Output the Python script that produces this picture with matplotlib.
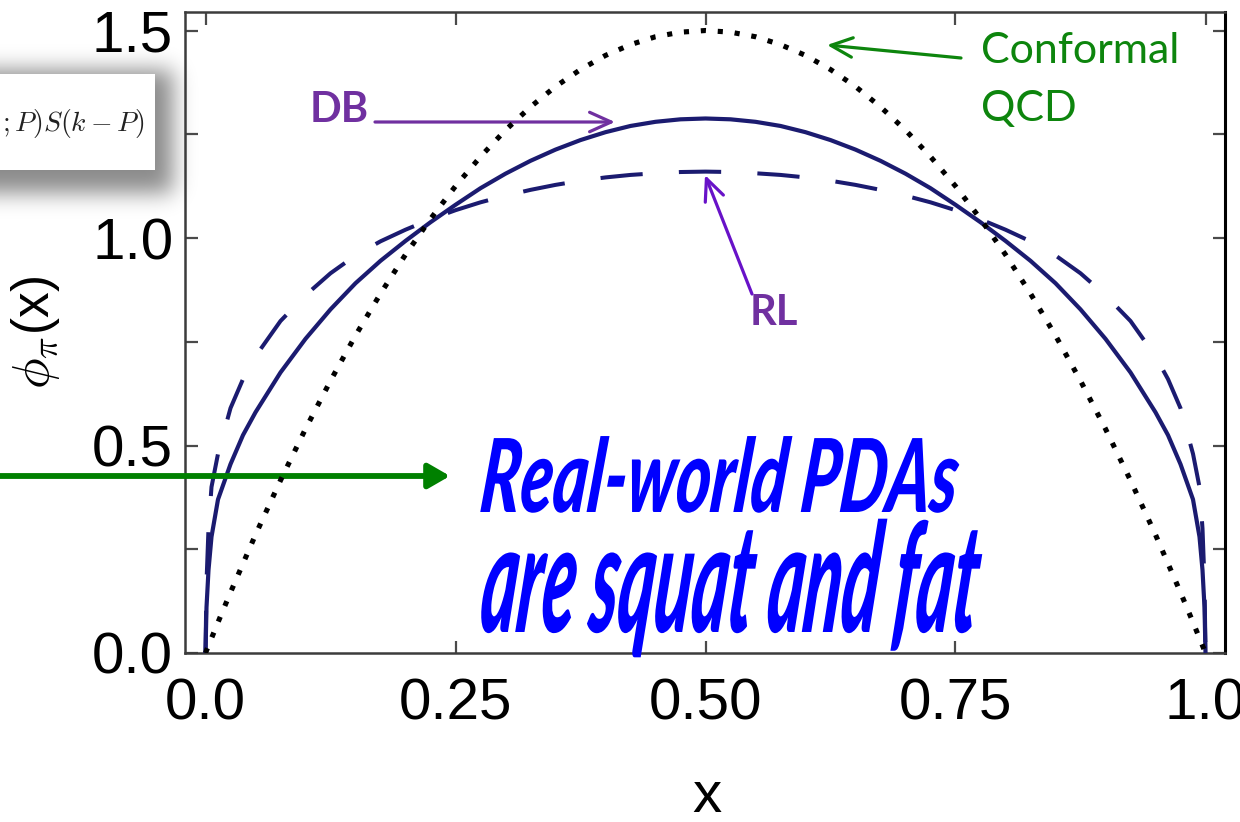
import numpy as np
import matplotlib
matplotlib.use('Agg')
import matplotlib.pyplot as plt
from matplotlib.patheffects import AbstractPathEffect
from matplotlib.transforms import Affine2D
from matplotlib.patches import Rectangle

plt.rcParams['font.family'] = ['Liberation Sans', 'DejaVu Sans']
plt.rcParams['mathtext.fontset'] = 'cm'

# ---------------- data ----------------
x_conf = [0.0, 0.0125, 0.025, 0.05, 0.075, 0.1, 0.125, 0.15, 0.175, 0.2, 0.225, 0.25,
          0.275, 0.3, 0.325, 0.35, 0.375, 0.4, 0.425, 0.45, 0.475, 0.5,
          0.525, 0.55, 0.575, 0.6, 0.625, 0.65, 0.675, 0.7, 0.725, 0.75,
          0.775, 0.8, 0.825, 0.85, 0.875, 0.9, 0.925, 0.95, 0.975, 0.9875, 1.0]
phi_conf = [0.0, 0.074, 0.146, 0.285, 0.416, 0.54, 0.656, 0.765, 0.866, 0.96, 1.046, 1.125,
            1.196, 1.26, 1.316, 1.365, 1.406, 1.44, 1.466, 1.485, 1.496, 1.5,
            1.496, 1.485, 1.466, 1.44, 1.406, 1.365, 1.316, 1.26, 1.196, 1.125,
            1.046, 0.96, 0.866, 0.765, 0.656, 0.54, 0.416, 0.285, 0.146, 0.074, 0.0]

x_db = [0.0, 0.001, 0.003, 0.006, 0.0125, 0.025, 0.0375, 0.05, 0.075, 0.1, 0.125, 0.15,
        0.175, 0.2, 0.225, 0.25, 0.275, 0.3, 0.325, 0.35, 0.375, 0.4, 0.425, 0.45, 0.475, 0.5,
        0.525, 0.55, 0.575, 0.6, 0.625, 0.65, 0.675, 0.7, 0.725, 0.75, 0.775, 0.8,
        0.825, 0.85, 0.875, 0.9, 0.925, 0.95, 0.9625, 0.975, 0.9875, 0.994, 0.997, 0.999, 1.0]
phi_db = [0.0, 0.11, 0.20, 0.28, 0.37, 0.455, 0.525, 0.58, 0.676, 0.757, 0.828, 0.891,
          0.945, 0.993, 1.038, 1.08, 1.12, 1.155, 1.186, 1.213, 1.236, 1.255, 1.27, 1.28, 1.286, 1.288,
          1.286, 1.28, 1.27, 1.255, 1.236, 1.213, 1.186, 1.155, 1.12, 1.08, 1.038, 0.993,
          0.945, 0.891, 0.828, 0.757, 0.676, 0.58, 0.525, 0.455, 0.37, 0.28, 0.20, 0.11, 0.0]

x_rl = [0.0, 0.001, 0.003, 0.006, 0.0125, 0.025, 0.0375, 0.05, 0.075, 0.1, 0.125, 0.15,
        0.175, 0.2, 0.225, 0.25, 0.275, 0.3, 0.325, 0.35, 0.375, 0.4, 0.425, 0.45, 0.475, 0.5,
        0.525, 0.55, 0.575, 0.6, 0.625, 0.65, 0.675, 0.7, 0.725, 0.75, 0.775, 0.8,
        0.825, 0.85, 0.875, 0.9, 0.925, 0.95, 0.9625, 0.975, 0.9875, 0.994, 0.997, 0.999, 1.0]
phi_rl = [0.0, 0.17, 0.30, 0.40, 0.48, 0.59, 0.66, 0.715, 0.80, 0.862, 0.915, 0.958,
          0.992, 1.02, 1.045, 1.067, 1.086, 1.102, 1.116, 1.128, 1.138, 1.146, 1.152, 1.156, 1.159, 1.16,
          1.159, 1.156, 1.152, 1.146, 1.138, 1.128, 1.116, 1.102, 1.086, 1.067, 1.045, 1.02,
          0.992, 0.958, 0.915, 0.862, 0.80, 0.715, 0.66, 0.59, 0.48, 0.40, 0.30, 0.17, 0.0]

xtick_vals = [0.0, 0.25, 0.5, 0.75, 1.0]
xtick_labels = ['0.0', '0.25', '0.50', '0.75', '1.0']
ytick_vals = [0.0, 0.5, 1.0, 1.5]
ytick_labels = ['0.0', '0.5', '1.0', '1.5']
ytick_minor = [0.25, 0.75, 1.25]

# ---------------- figure ----------------
W, H = 1240, 822
fig = plt.figure(figsize=(W / 100, H / 100), dpi=100, facecolor='white')


def px(x, y):
    """pixel position (top-left origin) -> figure fraction"""
    return (x / W, 1 - y / H)


class Stretch(AbstractPathEffect):
    def __init__(self, sx=1.0, sy=1.0, skew=0.0):
        super().__init__()
        self.sx, self.sy, self.skew = sx, sy, skew

    def draw_path(self, renderer, gc, tpath, affine, rgbFace=None):
        t = Affine2D().scale(self.sx, self.sy).skew_deg(self.skew, 0) + affine
        renderer.draw_path(gc, tpath, t, rgbFace)


# blurred drop shadow of the clipped formula box (top-left)
S = 320
yy, xx = np.mgrid[0:S, 0:S]
mask = ((xx <= 172) & (yy >= 70) & (yy <= 192)).astype(float)
sig = 11.0
r = int(3 * sig)
k = np.exp(-0.5 * (np.arange(-r, r + 1) / sig) ** 2)
k /= k.sum()
mp = np.pad(mask, r, mode='edge')
tmp = np.apply_along_axis(lambda v: np.convolve(v, k, mode='valid'), 1, mp)
blur = np.apply_along_axis(lambda v: np.convolve(v, k, mode='valid'), 0, tmp)
rgba = np.zeros((S, S, 4))
rgba[..., 3] = 0.46 * blur
fig.figimage(rgba, xo=0, yo=H - S, origin='upper', zorder=-1)

fig.add_artist(Rectangle(px(0, 170), 155 / W, 96 / H, transform=fig.transFigure,
                         facecolor='white', edgecolor='none', zorder=1))
fig.text(*px(2, 131), r'$;P)S(k-P)$', ha='left', va='baseline',
         fontsize=20, color='#222222', zorder=2)

# ---------------- axes ----------------
ax = fig.add_axes([185 / W, 1 - 653 / H, 1040 / W, 641 / H])
ax.patch.set_visible(False)
navy = '#1b1b70'
ax.plot(x_db, phi_db, color=navy, lw=3.0, solid_joinstyle='round', zorder=3)
ax.plot(x_rl, phi_rl, color=navy, lw=2.9, linestyle=(0, (10.5, 9.0)), zorder=3)
ax.plot(x_conf, phi_conf, color='black', lw=3.7, linestyle=(0, (1.0, 2.3)), zorder=4)

ax.set_xlim(-0.0205, 1.0195)
ax.set_ylim(0, 1.5446)
ax.set_xticks(xtick_vals)
ax.set_xticklabels(xtick_labels)
ax.set_yticks(ytick_vals)
ax.set_yticklabels(ytick_labels)
ax.set_yticks(ytick_minor, minor=True)
ax.tick_params(which='both', direction='in', top=True, right=True,
               length=9, width=1.6, color='#4a4a4a')
ax.tick_params(axis='x', pad=18, labelsize=42)
ax.tick_params(axis='y', pad=8.5, labelsize=42)
for name, sp in ax.spines.items():
    sp.set_linewidth(1.8)
    sp.set_color('#3c3c3c')
ax.spines['right'].set_color('black')
ax.spines['right'].set_linewidth(2.2)

ax.set_xlabel('x', fontsize=42)
ax.xaxis.set_label_coords((707 - 185) / 1040, (653 - 770) / 641)
ax.set_ylabel(r'$\phi_\pi$(x)', fontsize=37)
ax.yaxis.set_label_coords((62 - 185) / 1040, 0.5)

# ---------------- annotations ----------------
purple = '#7030a0'
green = '#0d850d'
fig.text(*px(310, 122), 'DB', color=purple, fontsize=30, fontweight='bold',
         family='Lato', ha='left', va='baseline')
fig.text(*px(750, 325), 'RL', color=purple, fontsize=30, fontweight='bold',
         family='Lato', ha='left', va='baseline')
fig.text(*px(981, 63), 'Conformal', color=green, fontsize=31,
         family='Lato', ha='left', va='baseline')
fig.text(*px(981, 121), 'QCD', color=green, fontsize=31,
         family='Lato', ha='left', va='baseline')

hs = 'head_length=1.55,head_width=0.7'
ax.annotate('', xy=px(615, 122), xytext=px(375, 122), xycoords='figure fraction',
            textcoords='figure fraction',
            arrowprops=dict(arrowstyle='->,' + hs, color=purple, lw=2.3,
                            shrinkA=0, shrinkB=0))
ax.annotate('', xy=px(705, 175), xytext=px(752, 294), xycoords='figure fraction',
            textcoords='figure fraction',
            arrowprops=dict(arrowstyle='->,' + hs, color='#6812c8', lw=2.3,
                            shrinkA=0, shrinkB=0))
ax.annotate('', xy=px(827, 45), xytext=px(961, 58), xycoords='figure fraction',
            textcoords='figure fraction',
            arrowprops=dict(arrowstyle='->,' + hs, color=green, lw=2.3,
                            shrinkA=0, shrinkB=0))
ax.annotate('', xy=px(450, 476), xytext=px(-10, 476), xycoords='figure fraction',
            textcoords='figure fraction',
            arrowprops=dict(arrowstyle='-|>,head_length=1.3,head_width=0.75',
                            color='#008000', lw=4.2, shrinkA=0, shrinkB=0))

# big blue message (WordArt-like, tall and condensed)
t1 = fig.text(*px(478, 512), 'Real-world PDAs', color='#0000ff', fontsize=46,
              fontweight='black', fontstyle='italic', family='Lato',
              ha='left', va='baseline', zorder=5)
t2 = fig.text(*px(478, 632), 'are squat and fat', color='#0000ff', fontsize=52,
              fontweight='black', fontstyle='italic', family='Lato',
              ha='left', va='baseline', zorder=5)
fig.canvas.draw()
for t, target_w, target_h, frac in [(t1, 477, 73, 0.7165), (t2, 497, 77, 0.5065)]:
    bb = t.get_window_extent()
    fs_px = t.get_fontsize() * fig.dpi / 72
    sx = target_w / bb.width
    sy = target_h / (frac * fs_px)
    t.set_path_effects([Stretch(sx, sy, skew=6)])

fig.savefig('out.png', dpi=100, facecolor='white')
